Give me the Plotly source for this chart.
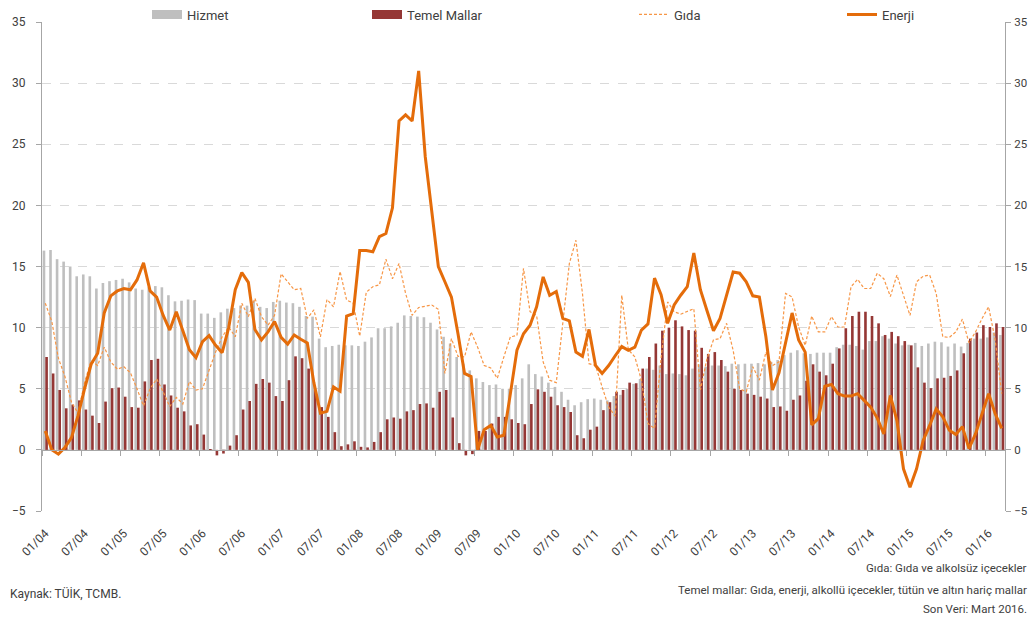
import plotly.graph_objects as go

months = [f"{m:02d}/{y % 100:02d}" for y in range(2004, 2017) for m in range(1, 13)][:147]
idx = list(range(len(months)))

hizmet = [16.3, 16.35, 15.6, 15.4, 15.0, 14.2, 14.35, 14.2, 13.2, 13.65, 13.8, 13.9,
          14.0, 13.7, 13.2, 13.1, 13.3, 13.4, 13.3, 12.65, 12.15, 12.2, 12.3, 12.25,
          11.15, 11.15, 10.8, 11.25, 11.55, 11.6, 11.8, 11.8, 12.2, 11.7, 11.6, 12.1,
          12.2, 12.05, 12.0, 11.7, 10.95, 10.9, 9.1, 8.4, 8.5, 8.6, 8.55, 8.55,
          8.5, 8.85, 9.2, 9.95, 9.95, 10.1, 10.4, 11.0, 10.95, 10.9, 10.85, 10.4,
          9.85, 9.25, 8.7, 7.6, 7.05, 6.5, 5.85, 5.55, 5.3, 5.35, 5.0, 5.0,
          5.3, 5.85, 7.0, 6.2, 6.0, 5.5, 5.15, 4.75, 4.1, 3.65, 3.9, 4.15,
          4.2, 4.1, 4.05, 4.4, 4.5, 5.0, 5.4, 5.8, 6.65, 6.55, 6.9, 6.2,
          6.25, 6.2, 6.1, 6.65, 7.0, 6.8, 6.9, 6.9, 6.85, 7.05, 7.0, 7.05,
          7.05, 7.1, 7.0, 7.2, 7.35, 7.75, 7.95, 8.15, 7.9, 7.85, 7.95, 7.95,
          7.95, 8.4, 8.6, 8.6, 8.5, 8.2, 8.9, 8.9, 9.3, 9.1, 8.7, 8.55,
          8.6, 8.75, 8.5, 8.7, 8.85, 8.8, 8.45, 8.7, 8.45, 8.75, 9.1, 9.1,
          9.2, 9.6, 9.4]

temel = [7.6, 6.25, 4.9, 3.4, 3.7, 4.05, 3.3, 2.8, 2.2, 3.95, 5.05, 5.1,
         4.35, 3.5, 3.45, 5.6, 7.35, 7.45, 5.35, 4.45, 3.45, 3.15, 2.0, 2.1,
         1.25, 0.05, -0.45, -0.3, 0.35, 1.2, 3.3, 4.0, 5.4, 5.8, 5.5, 4.4,
         4.0, 5.7, 7.65, 7.5, 6.65, 4.9, 3.5, 2.7, 1.45, 0.3, 0.45, 0.7,
         0.25, 0.2, 0.65, 1.45, 2.5, 2.65, 2.55, 3.15, 3.25, 3.75, 3.8, 3.45,
         4.75, 4.9, 2.65, 0.55, -0.45, -0.35, 1.55, 1.55, 2.15, 2.7, 2.7, 2.5,
         2.2, 2.1, 3.75, 4.95, 4.75, 4.35, 3.65, 3.5, 3.1, 1.2, 0.95, 1.65,
         1.9, 3.25, 3.9, 4.75, 4.9, 5.5, 5.45, 6.65, 7.6, 8.7, 9.75, 10.0,
         10.6, 10.1, 9.8, 9.75, 8.35, 7.85, 8.0, 7.35, 6.4, 5.0, 4.9, 4.6,
         4.5, 4.35, 4.2, 3.5, 3.55, 3.2, 4.1, 4.45, 5.65, 7.0, 6.4, 6.1,
         7.05, 8.3, 9.95, 10.95, 11.3, 11.3, 10.95, 10.35, 9.4, 9.65, 9.3, 8.9,
         8.55, 6.75, 5.5, 5.05, 5.85, 5.9, 6.05, 6.5, 7.9, 9.1, 9.6, 10.2,
         10.05, 10.35, 10.05]

gida = [12.0, 10.5, 7.5, 6.0, 3.9, 3.0, 5.5, 7.3, 6.9, 8.4, 7.2, 6.6,
        6.8, 6.3, 5.0, 3.6, 5.0, 5.8, 4.75, 3.55, 4.3, 3.75, 5.6, 4.9,
        5.0, 6.5, 8.0, 9.25, 10.05, 9.25, 12.0, 10.9, 12.4, 10.9, 10.2, 11.0,
        14.4, 13.75, 13.1, 13.2, 10.75, 11.45, 9.25, 12.3, 11.7, 14.6, 12.25, 12.0,
        9.3, 12.9, 13.35, 13.5, 15.6, 14.0, 15.25, 12.8, 11.0, 11.65, 11.75, 11.85,
        11.5, 6.25, 9.1, 7.65, 7.6, 9.65, 8.4, 6.9, 6.7, 5.85, 7.6, 9.25,
        9.35, 14.85, 11.3, 11.0, 7.2, 5.7, 5.5, 10.35, 15.25, 17.15, 12.8, 7.05,
        6.9, 5.15, 3.5, 2.75, 12.65, 8.2, 7.6, 5.7, 2.15, 1.75, 7.5, 12.1,
        11.3, 11.1, 11.3, 11.55, 4.9, 7.45, 9.0, 9.1, 10.35, 8.15, 5.0, 4.75,
        6.8, 5.7, 8.0, 6.9, 7.2, 12.8, 12.5, 10.05, 8.55, 10.95, 9.65, 9.65,
        10.9, 10.05, 10.05, 13.35, 13.95, 13.2, 13.2, 14.45, 14.0, 12.55, 14.3, 12.65,
        11.0, 13.75, 14.2, 14.3, 12.8, 9.25, 9.2, 9.65, 10.7, 8.75, 9.65, 10.75,
        11.7, 9.0, 4.6]

enerji = [1.55, 0.0, -0.35, 0.2, 1.0, 2.8, 5.0, 7.0, 7.9, 11.2, 12.6, 13.0,
          13.2, 13.1, 13.9, 15.3, 13.0, 12.5, 11.0, 9.8, 11.3, 9.8, 8.2, 7.55,
          8.85, 9.35, 8.55, 7.95, 10.0, 13.1, 14.5, 13.7, 9.85, 9.0, 9.65, 10.5,
          9.2, 8.65, 9.4, 9.05, 8.75, 5.5, 3.0, 3.15, 5.15, 4.8, 10.95, 11.15,
          16.3, 16.3, 16.2, 17.45, 17.7, 19.8, 26.9, 27.4, 26.9, 31.0, 24.0, 19.5,
          15.0, 13.75, 12.5, 9.5, 6.25, 6.0, 0.0, 1.65, 2.0, 1.05, 1.2, 4.6,
          8.15, 9.5, 10.2, 11.7, 14.15, 12.65, 12.95, 10.75, 10.55, 8.0, 7.65, 9.85,
          6.9, 6.25, 6.9, 7.7, 8.45, 8.15, 8.4, 9.8, 10.3, 14.05, 12.7, 10.35,
          11.85, 12.65, 13.35, 16.1, 13.1, 11.4, 9.75, 10.75, 12.65, 14.55, 14.45, 13.75,
          12.6, 12.5, 9.25, 4.9, 6.3, 8.85, 11.2, 9.0, 8.0, 2.05, 2.55, 5.2,
          5.35, 4.6, 4.4, 4.4, 4.6, 4.05, 3.5, 2.6, 1.3, 4.45, 2.4, -1.55,
          -3.05, -1.55, 0.75, 2.0, 3.35, 2.7, 1.6, 1.25, 1.9, 0.1, 1.3, 2.95,
          4.6, 2.95, 1.75]

tick_every = 6
tick_pos = idx[::tick_every]
tick_text = months[::tick_every]
boundaries = [i - 0.5 for i in idx[::tick_every]] + [len(idx) - 0.5]

FONT = "Roboto, Open Sans, Arial, sans-serif"
TXT = "#404040"
AX = "#A6A6A6"
GRID = "#D9D9D9"
C_HIZ = "#BFBFBF"
C_TEM = "#953735"
C_GID = "#F79646"
C_ENR = "#E46C0A"

fig = go.Figure()
fig.add_trace(go.Bar(x=idx, y=hizmet, name="Hizmet", marker_color=C_HIZ,
                     marker_line_width=0, showlegend=False))
fig.add_trace(go.Bar(x=idx, y=temel, name="Temel Mallar", marker_color=C_TEM,
                     marker_line_width=0, showlegend=False))
# legend keys for the bar series (wide flat rectangles, as in the original)
fig.add_trace(go.Scatter(x=[None], y=[None], name="Hizmet", mode="lines",
                         line=dict(color=C_HIZ, width=9), legend="legend",
                         showlegend=True))
fig.add_trace(go.Scatter(x=[None], y=[None], name="Temel Mallar", mode="lines",
                         line=dict(color=C_TEM, width=9), legend="legend2",
                         showlegend=True))
fig.add_trace(go.Scatter(x=idx, y=gida, name="Gıda", mode="lines", xaxis="x2",
                         line=dict(color=C_GID, width=1.2, dash="3px,2px"),
                         legend="legend3", showlegend=True))
fig.add_trace(go.Scatter(x=idx, y=enerji, name="Enerji", mode="lines", xaxis="x2",
                         yaxis="y2", line=dict(color=C_ENR, width=3),
                         legend="legend4", showlegend=True))

# page pixel geometry of the plot area (page body margin is removed below)
PL, PR, PT, PB = 42, 1005, 22, 511
W, H = 1031, 618


def px_to_paper_y(py):
    return (PB - py) / (PB - PT)


def px_to_paper_x(px):
    return (px - PL) / (PR - PL)


rng = [-0.5, len(idx) - 0.5]
leg_common = dict(orientation="h", yanchor="middle", y=px_to_paper_y(14.5),
                  xanchor="left", bgcolor="rgba(0,0,0,0)",
                  font=dict(family=FONT, size=13, color=TXT))

fig.update_layout(
    width=W, height=H,
    margin=dict(l=PL, r=W - PR, t=PT, b=H - PB, autoexpand=False),
    paper_bgcolor="white", plot_bgcolor="white",
    showlegend=True,
    barmode="group", bargap=0.2, bargroupgap=0.0,
    font=dict(family=FONT, size=12, color=TXT),
    legend=dict(x=px_to_paper_x(147), **leg_common),
    legend2=dict(x=px_to_paper_x(367), **leg_common),
    legend3=dict(x=px_to_paper_x(634), **leg_common),
    legend4=dict(x=px_to_paper_x(842), **leg_common),
    xaxis=dict(range=rng, tickmode="array", tickvals=tick_pos, ticktext=tick_text,
               tickangle=-45, ticks="", showgrid=False, zeroline=False,
               showline=False, ticklabelstandoff=12,
               tickfont=dict(size=12, color=TXT)),
    xaxis2=dict(range=rng, overlaying="x", anchor="free",
                position=px_to_paper_y(450), side="bottom", tickmode="array",
                tickvals=boundaries, ticks="outside", ticklen=5, tickcolor=AX,
                showticklabels=False, showline=True, linecolor=AX, linewidth=1,
                showgrid=False, zeroline=False),
    yaxis=dict(range=[-5, 35], dtick=5, showgrid=True, gridcolor=GRID,
               griddash="dash", zeroline=False, showline=True, linecolor=AX,
               ticks="outside", ticklen=5, tickcolor=AX, ticklabelstandoff=8,
               tickfont=dict(size=12, color=TXT)),
    yaxis2=dict(range=[-5, 35], dtick=5, overlaying="y", side="right",
                showgrid=False, zeroline=False, showline=True, linecolor=AX,
                ticks="outside", ticklen=5, tickcolor=AX, ticklabelstandoff=1,
                tickfont=dict(size=11.5, color=TXT)),
)

notes_right = [
    ("Gıda: Gıda ve alkolsüz içecekler", 568),
    ("Temel mallar: Gıda, enerji, alkollü içecekler, tütün ve altın hariç mallar", 590),
    ("Son Veri: Mart 2016.", 609),
]
for txt, py in notes_right:
    fig.add_annotation(text=txt, xref="paper", yref="paper", x=px_to_paper_x(1029),
                       y=px_to_paper_y(py), xanchor="right", yanchor="middle",
                       showarrow=False, font=dict(family=FONT, size=11.5, color=TXT))
fig.add_annotation(text="Kaynak: TÜİK, TCMB.", xref="paper", yref="paper",
                   x=px_to_paper_x(8), y=px_to_paper_y(593), xanchor="left",
                   yanchor="middle", showarrow=False,
                   font=dict(family=FONT, size=12, color=TXT))

page_css = ("document.documentElement.style.overflow='hidden';"
            "document.body.style.margin='0';"
            "document.body.style.overflow='hidden';")
fig.write_html("out.html", post_script=page_css,
               config={"displayModeBar": False})
